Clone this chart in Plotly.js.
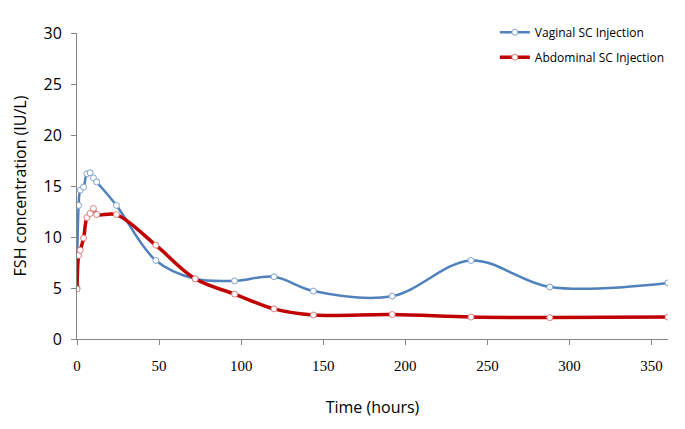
<!DOCTYPE html>
<html>
<head>
<meta charset="utf-8">
<script src="https://cdn.plot.ly/plotly-3.0.1.min.js"></script>
<style>html,body{margin:0;padding:0;background:#fff;}#chart{width:685px;height:429px;}</style>
</head>
<body>
<div id="chart"></div>
<script>
const timeHours = [0, 1, 2, 4, 6, 8, 10, 12, 24, 48, 72, 96, 120, 144, 192, 240, 288, 360];
const vaginalFSH = [5.0, 13.1, 14.6, 14.9, 16.2, 16.3, 15.8, 15.4, 13.1, 7.7, 5.9, 5.7, 6.1, 4.7, 4.2, 7.7, 5.1, 5.5];
const abdominalFSH = [4.9, 8.2, 8.7, 9.9, 11.9, 12.3, 12.8, 12.2, 12.2, 9.2, 5.9, 4.4, 2.95, 2.35, 2.4, 2.15, 2.1, 2.15];
const seriesNames = ["Vaginal SC Injection", "Abdominal SC Injection"];
const yTicks = [0, 5, 10, 15, 20, 25, 30];
const xTicks = [0, 50, 100, 150, 200, 250, 300, 350];

const traces = [
  {
    x: timeHours, y: vaginalFSH, name: seriesNames[0], type: "scatter", mode: "lines+markers",
    legendgroup: "a",
    line: {color: "#4F81BD", width: 2.5, shape: "spline", smoothing: 1},
    marker: {symbol: "circle", size: 6, color: "#ffffff", line: {color: "#7FA3CF", width: 1}}
  },
  {
    x: timeHours, y: abdominalFSH, name: seriesNames[1], type: "scatter", mode: "lines+markers",
    legendgroup: "b",
    line: {color: "#C00000", width: 3.5, shape: "spline", smoothing: 1},
    marker: {symbol: "circle", size: 6, color: "#ffffff", line: {color: "#E07C7C", width: 1}}
  }
];

const layout = {
  width: 685, height: 429,
  margin: {l: 77, r: 17, t: 33, b: 90},
  paper_bgcolor: "#ffffff", plot_bgcolor: "#ffffff",
  showlegend: true,
  legend: {
    x: 0.707, xanchor: "left", y: 1.05, yanchor: "top",
    font: {family: "Open Sans, sans-serif", size: 12, color: "#000"},
    bgcolor: "rgba(0,0,0,0)", traceorder: "grouped", tracegroupgap: 6, itemwidth: 30
  },
  xaxis: {
    range: [0, 360], tickvals: xTicks, ticktext: xTicks.map(String),
    showgrid: false, zeroline: false, showline: true, linecolor: "#868686", linewidth: 1,
    ticks: "outside", ticklen: 5, tickcolor: "#868686", ticklabelstandoff: 8,
    tickfont: {family: "Liberation Serif, serif", size: 15, color: "#000"},
    title: {text: "Time (hours)", font: {family: "Open Sans, sans-serif", size: 16, color: "#000"}, standoff: 28}
  },
  yaxis: {
    range: [0, 30], tickvals: yTicks, ticktext: yTicks.map(String),
    showgrid: false, zeroline: false, showline: true, linecolor: "#868686", linewidth: 1,
    ticks: "outside", ticklen: 5, tickcolor: "#868686", ticklabelstandoff: 6,
    tickfont: {family: "Open Sans, sans-serif", size: 16, color: "#000"},
    title: {text: "FSH concentration (IU/L)", font: {family: "Open Sans, sans-serif", size: 16, color: "#000"}, standoff: 12}
  }
};

Plotly.newPlot("chart", traces, layout, {displayModeBar: false, staticPlot: true});
</script>
</body>
</html>
